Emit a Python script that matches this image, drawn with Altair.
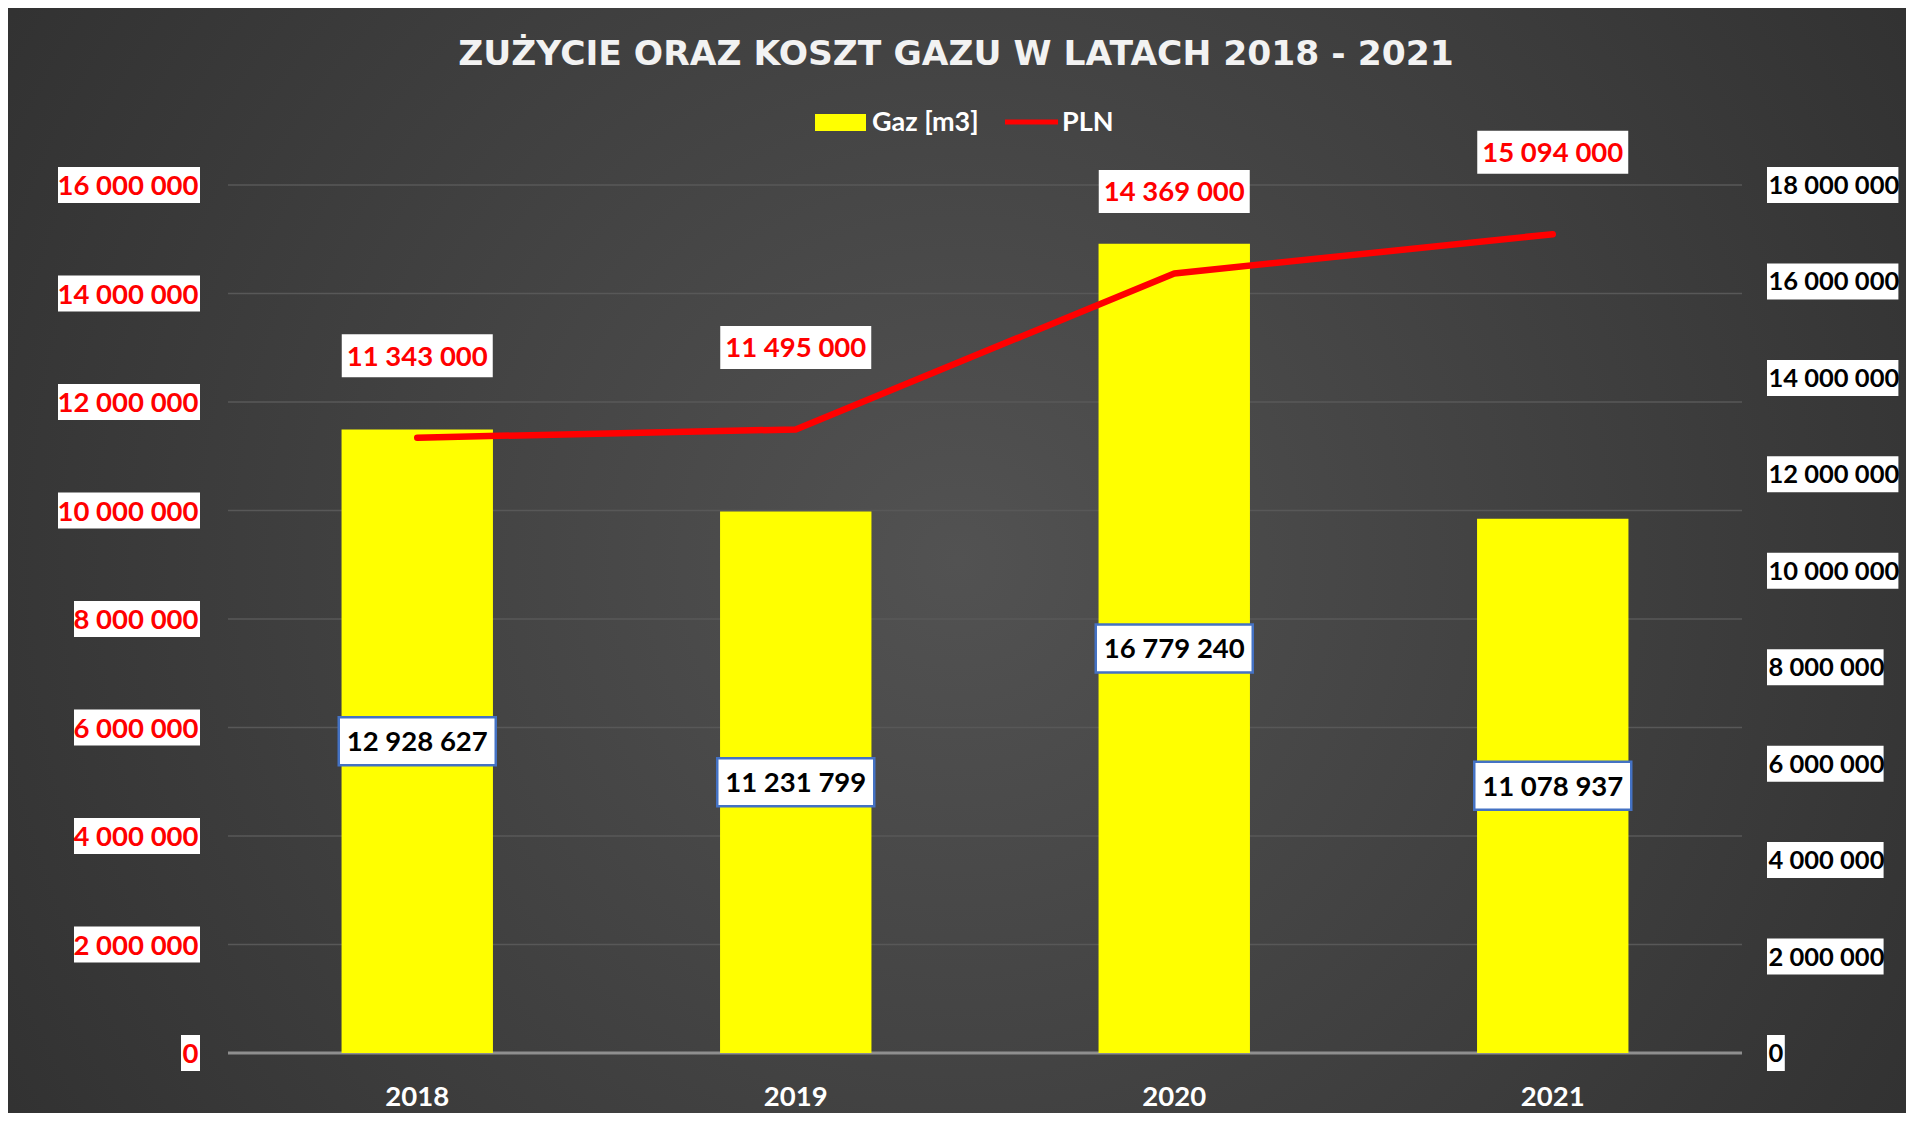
import altair as alt
import pandas as pd

# ---- data ----
years = ["2018", "2019", "2020", "2021"]
gaz_m3 = [12928627, 11231799, 16779240, 11078937]
pln = [11343000, 11495000, 14369000, 15094000]
left_ticks = [0, 2000000, 4000000, 6000000, 8000000, 10000000, 12000000, 14000000, 16000000]
right_ticks = [0, 2000000, 4000000, 6000000, 8000000, 10000000, 12000000, 14000000, 16000000, 18000000]
title_text = "ZUŻYCIE ORAZ KOSZT GAZU W LATACH 2018 - 2021"
legend_labels = ["Gaz [m3]", "PLN"]


def fmt(v):
    return f"{int(v):,}".replace(",", " ")


W, H = 1514, 868
PAD = {"left": 220, "top": 177, "right": 164, "bottom": 60}
FONT = "Lato"

df = pd.DataFrame({"rok": years, "gaz": gaz_m3, "pln": pln})
df["gaz_label"] = [fmt(v) for v in gaz_m3]
df["pln_label"] = [fmt(v) for v in pln]
left_df = pd.DataFrame({"v": left_ticks, "label": [fmt(v) for v in left_ticks]})
right_df = pd.DataFrame({"v": right_ticks, "label": [fmt(v) for v in right_ticks]})

yL = alt.Scale(domain=[0, 16000000], nice=False, zero=True)
yR = alt.Scale(domain=[0, 18000000], nice=False, zero=True)

x_enc = alt.X(
    "rok:N",
    sort=years,
    scale=alt.Scale(paddingInner=0.6, paddingOuter=0.3),
    axis=alt.Axis(
        title=None, labelColor="white", labelFont=FONT, labelFontWeight="bold",
        labelFontSize=27.5, labelAngle=0, domain=False, ticks=False, tickSize=0,
        grid=False, labelBaseline="alphabetic", labelPadding=52, zindex=2,
    ),
)


def box_calc(chart, field, dw, sw, pad, h, anchor):
    nsp = f"(length(split(datum.{field}, ' ')) - 1)"
    bw = f"((length(datum.{field}) - {nsp}) * {dw} + {nsp} * {sw} + {pad})"
    if anchor == "center":
        x0, x1 = f"(-{bw}/2)", f"({bw}/2)"
    elif anchor == "right":
        x0, x1 = f"(-{bw})", "0"
    else:
        x0, x1 = "0", f"({bw})"
    path = f"'M' + {x0} + ',{-h/2}H' + {x1} + 'V{h/2}H' + {x0} + 'Z'"
    return chart.transform_calculate(path=path)


# background with radial gradient
grad = alt.RadialGradient(
    gradient="radial",
    stops=[alt.GradientStop(color="#525252", offset=0), alt.GradientStop(color="#2a2a2a", offset=1)],
    x1=0.5, y1=0.5, x2=0.5, y2=0.5, r1=0, r2=0.72,
)
bg = alt.Chart(pd.DataFrame({"k": [0]})).mark_rect(fill=grad).encode(
    x=alt.value(-PAD["left"]), x2=alt.value(W + PAD["right"]),
    y=alt.value(-PAD["top"]), y2=alt.value(H + PAD["bottom"]),
)

grid = alt.Chart(left_df).mark_rule().encode(
    y=alt.Y("v:Q", scale=yL, axis=None),
    x=alt.value(0), x2=alt.value(W),
    color=alt.condition("datum.v == 0", alt.value("#8f8f8f"), alt.value("#585858")),
    strokeWidth=alt.condition("datum.v == 0", alt.value(3), alt.value(1.6)),
)

bars = alt.Chart(df).mark_bar(color="#FFFF00").encode(
    x=x_enc, y=alt.Y("gaz:Q", scale=yR, axis=None)
)

bar_box = box_calc(
    alt.Chart(df).transform_calculate(mid="datum.gaz / 2"), "gaz_label", 16, 5.5, 18, 48, "center"
).mark_point(
    filled=True, fill="white", stroke="#4472C4", strokeWidth=2.5, opacity=1, size=4
).encode(
    x=x_enc, y=alt.Y("mid:Q", scale=yR, axis=None), shape=alt.Shape("path:N", scale=None)
)

bar_text = alt.Chart(df).transform_calculate(mid="datum.gaz / 2").mark_text(
    font=FONT, fontWeight="bold", fontSize=27.5, color="black", baseline="alphabetic", dy=10
).encode(x=x_enc, y=alt.Y("mid:Q", scale=yR, axis=None), text="gaz_label:N")

line = alt.Chart(df).mark_line(
    color="#FF0000", strokeWidth=6.5, strokeCap="round", strokeJoin="round"
).encode(x=x_enc, y=alt.Y("pln:Q", scale=yL, axis=None))

line_box = box_calc(alt.Chart(df), "pln_label", 16, 5.5, 12, 43, "center").mark_point(
    filled=True, fill="white", strokeWidth=0, opacity=1, size=4, yOffset=-82
).encode(x=x_enc, y=alt.Y("pln:Q", scale=yL, axis=None), shape=alt.Shape("path:N", scale=None))

line_text = alt.Chart(df).mark_text(
    font=FONT, fontWeight="bold", fontSize=27.5, color="#FF0000", baseline="alphabetic",
    yOffset=-82, dy=10,
).encode(x=x_enc, y=alt.Y("pln:Q", scale=yL, axis=None), text="pln_label:N")

left_box = box_calc(alt.Chart(left_df), "label", 16, 5.5, 3, 36, "right").mark_point(
    filled=True, fill="white", strokeWidth=0, opacity=1, size=4
).encode(x=alt.value(-28), y=alt.Y("v:Q", scale=yL, axis=None), shape=alt.Shape("path:N", scale=None))

left_text = alt.Chart(left_df).mark_text(
    font=FONT, fontWeight="bold", fontSize=27.5, color="#FF0000", baseline="alphabetic",
    align="right", dy=10,
).encode(x=alt.value(-29.5), y=alt.Y("v:Q", scale=yL, axis=None), text="label:N")

right_box = box_calc(alt.Chart(right_df), "label", 14.8, 5, 3, 36, "left").mark_point(
    filled=True, fill="white", strokeWidth=0, opacity=1, size=4
).encode(x=alt.value(W + 25), y=alt.Y("v:Q", scale=yR, axis=None), shape=alt.Shape("path:N", scale=None))

right_text = alt.Chart(right_df).mark_text(
    font=FONT, fontWeight="bold", fontSize=25.5, color="black", baseline="alphabetic",
    align="left", dy=9,
).encode(x=alt.value(W + 26.5), y=alt.Y("v:Q", scale=yR, axis=None), text="label:N")

title = alt.Chart(pd.DataFrame({"t": [title_text]})).mark_text(
    font="DejaVu Sans", fontWeight="bold", fontSize=34.5, color="#F2F2F2",
    align="center", baseline="alphabetic",
).encode(x=alt.value(728), y=alt.value(-120), text="t:N")

leg_box = alt.Chart(pd.DataFrame({"k": [0]})).mark_point(
    shape="M-25.5,-8.5H25.5V8.5H-25.5Z", size=4, filled=True, fill="#FFFF00", strokeWidth=0, opacity=1
).encode(x=alt.value(612.5), y=alt.value(-62.5))
leg_line = alt.Chart(pd.DataFrame({"k": [0]})).mark_rule(color="#FF0000", strokeWidth=5).encode(
    x=alt.value(777), x2=alt.value(830), y=alt.value(-63)
)
leg_t1 = alt.Chart(pd.DataFrame({"t": [legend_labels[0]]})).mark_text(
    font=FONT, fontWeight="bold", fontSize=27, color="white", align="left", baseline="alphabetic"
).encode(x=alt.value(644), y=alt.value(-54), text="t:N")
leg_t2 = alt.Chart(pd.DataFrame({"t": [legend_labels[1]]})).mark_text(
    font=FONT, fontWeight="bold", fontSize=27, color="white", align="left", baseline="alphabetic"
).encode(x=alt.value(834), y=alt.value(-54), text="t:N")

chart = alt.layer(
    bg, grid, bars, bar_box, bar_text, line, line_box, line_text,
    left_box, left_text, right_box, right_text, title, leg_box, leg_line, leg_t1, leg_t2,
).resolve_scale(y="independent").properties(
    width=W, height=H,
    autosize=alt.AutoSizeParams(type="none"),
    padding=PAD,
    background="#2e2e2e",
).configure_view(stroke=None)

chart.save("out.html", embed_options={"renderer": "svg", "actions": False})
